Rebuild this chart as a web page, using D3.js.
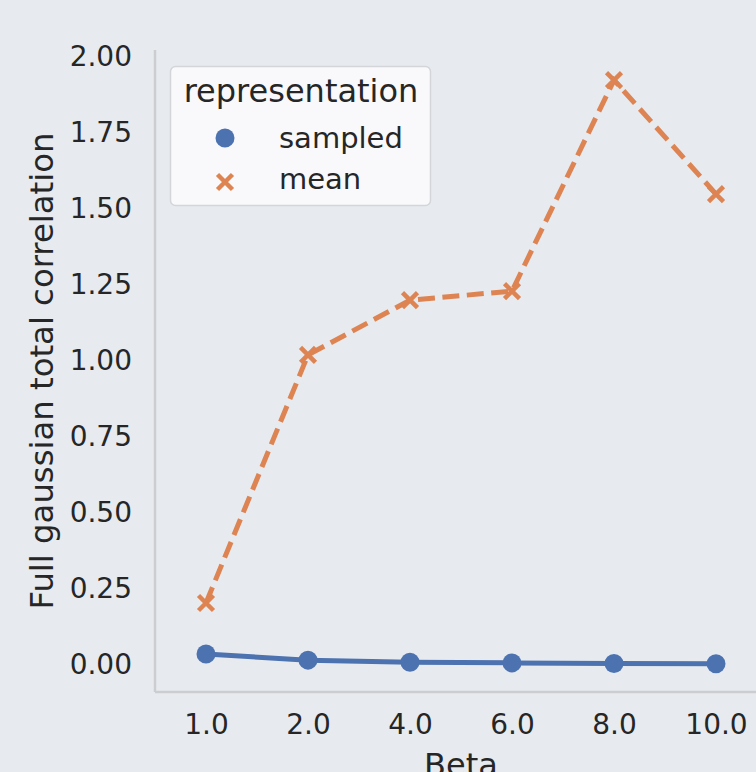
<!DOCTYPE html>
<html><head><meta charset="utf-8">
<script src="https://cdn.jsdelivr.net/npm/d3@7/dist/d3.min.js"></script>
<style>html,body{margin:0;padding:0;background:#e7ebf0;overflow:hidden}</style>
</head><body>
<svg id="c" width="756" height="772"></svg>
<script>
const categories = ["1.0","2.0","4.0","6.0","8.0","10.0"];
const sampledValues = [0.036, 0.016, 0.009, 0.007, 0.005, 0.004];
const meanValues = [0.204, 1.02, 1.20, 1.23, 1.924, 1.549];
const yTicks = [0, 0.25, 0.5, 0.75, 1.0, 1.25, 1.5, 1.75, 2.0];
const seriesNames = ["sampled","mean"];
const colors = ["#4c72b0","#dd8452"];

(function(){
const svg = d3.select("#c");
const font = "DejaVu Sans, sans-serif";
svg.append("rect").attr("width",756).attr("height",772).attr("fill","#e7ebf0");

const pLeft = 155, pRight = 767, pTop = 50, pBottom = 692;
const x = d3.scalePoint().domain(categories).range([pLeft, pRight]).padding(0.5);
const y = d3.scaleLinear().domain([-0.0888, 2.023]).range([pBottom, pTop]);

// spines
svg.append("line").attr("x1",pLeft).attr("x2",pLeft).attr("y1",pTop).attr("y2",pBottom)
  .attr("stroke","#cbcdd0").attr("stroke-width",2.5);
svg.append("line").attr("x1",pLeft).attr("x2",pRight).attr("y1",pBottom).attr("y2",pBottom)
  .attr("stroke","#cbcdd0").attr("stroke-width",2.5);

// y axis
const yAxis = d3.axisLeft(y).tickValues(yTicks).tickFormat(d3.format(".2f")).tickSize(0).tickPadding(23);
const gy = svg.append("g").attr("transform",`translate(${pLeft},0)`).call(yAxis);
gy.select(".domain").remove();
gy.selectAll("text").attr("font-family",font).attr("font-size",28).attr("fill","#262626");

// x axis
const xAxis = d3.axisBottom(x).tickSize(0).tickPadding(22);
const gx = svg.append("g").attr("transform",`translate(0,${pBottom})`).call(xAxis);
gx.select(".domain").remove();
gx.selectAll("text").attr("font-family",font).attr("font-size",28).attr("fill","#262626");

// axis labels
svg.append("text").attr("x",461).attr("y",776).attr("text-anchor","middle")
  .attr("font-family",font).attr("font-size",32).attr("fill","#262626").text("Beta");
svg.append("text").attr("transform","translate(53,371) rotate(-90)").attr("text-anchor","middle")
  .attr("font-family",font).attr("font-size",32.3).attr("fill","#262626").text("Full gaussian total correlation");

const line = d3.line().x((d,i)=>x(categories[i])).y(d=>y(d));

// sampled
svg.append("path").datum(sampledValues).attr("d",line).attr("fill","none")
  .attr("stroke",colors[0]).attr("stroke-width",5).attr("stroke-linejoin","round");
svg.selectAll(".dot").data(sampledValues).enter().append("circle")
  .attr("cx",(d,i)=>x(categories[i])).attr("cy",d=>y(d)).attr("r",9.5).attr("fill",colors[0]);

// mean
svg.append("path").datum(meanValues).attr("d",line).attr("fill","none")
  .attr("stroke",colors[1]).attr("stroke-width",5).attr("stroke-dasharray","17,7.5");
function xMark(g, cx, cy, s, c){
  g.append("path").attr("d",`M${cx-s},${cy-s}L${cx+s},${cy+s}M${cx-s},${cy+s}L${cx+s},${cy-s}`)
   .attr("stroke",c).attr("stroke-width",4.5).attr("fill","none");
}
meanValues.forEach((d,i)=>xMark(svg, x(categories[i]), y(d), 7.5, colors[1]));

// legend
const lg = svg.append("g");
lg.append("rect").attr("x",170.5).attr("y",66.5).attr("width",260).attr("height",139).attr("rx",5)
  .attr("fill","#fbfbfc").attr("fill-opacity",0.9).attr("stroke","#d3d5d8").attr("stroke-width",1.5);
lg.append("text").attr("x",301).attr("y",102).attr("text-anchor","middle")
  .attr("font-family",font).attr("font-size",32).attr("fill","#262626").text("representation");
lg.append("circle").attr("cx",225).attr("cy",138).attr("r",9.5).attr("fill",colors[0]);
xMark(lg, 225, 182, 7.5, colors[1]);
lg.append("text").attr("x",279).attr("y",148).attr("font-family",font).attr("font-size",29).attr("fill","#262626").text(seriesNames[0]);
lg.append("text").attr("x",279).attr("y",189).attr("font-family",font).attr("font-size",29).attr("fill","#262626").text(seriesNames[1]);
})();
</script>
</body></html>
